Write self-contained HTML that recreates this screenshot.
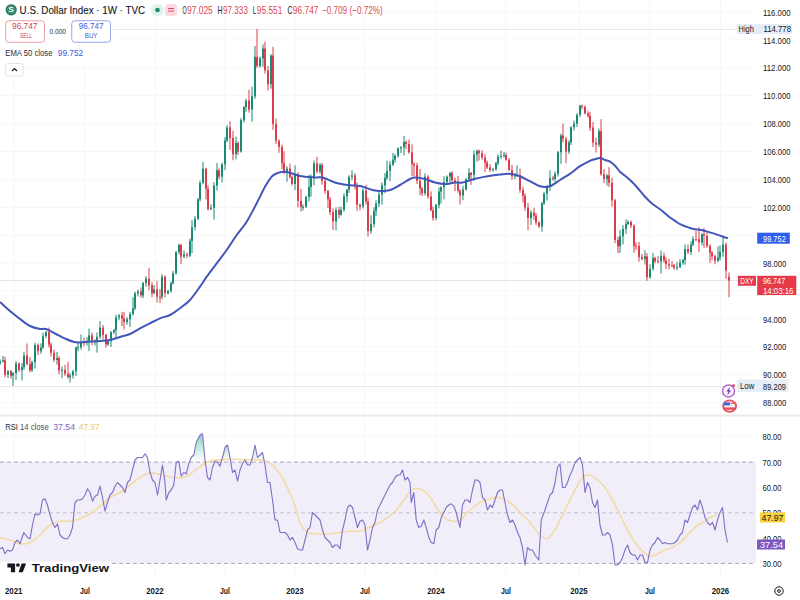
<!DOCTYPE html>
<html><head><meta charset="utf-8"><style>
html,body{margin:0;padding:0;width:800px;height:600px;overflow:hidden;background:#fff}
svg{position:absolute;left:0;top:0;font-family:"Liberation Sans",sans-serif}
.ax{fill:#131722}
.tb{font-weight:bold}
</style></head><body>
<svg width="800" height="600" viewBox="0 0 800 600">
<line x1="0" y1="402.6" x2="756" y2="402.6" stroke="#f7f7f7" stroke-width="1"/>
<line x1="0" y1="374.7" x2="756" y2="374.7" stroke="#f7f7f7" stroke-width="1"/>
<line x1="0" y1="346.8" x2="756" y2="346.8" stroke="#f7f7f7" stroke-width="1"/>
<line x1="0" y1="318.9" x2="756" y2="318.9" stroke="#f7f7f7" stroke-width="1"/>
<line x1="0" y1="291.0" x2="756" y2="291.0" stroke="#f7f7f7" stroke-width="1"/>
<line x1="0" y1="263.1" x2="756" y2="263.1" stroke="#f7f7f7" stroke-width="1"/>
<line x1="0" y1="235.2" x2="756" y2="235.2" stroke="#f7f7f7" stroke-width="1"/>
<line x1="0" y1="207.3" x2="756" y2="207.3" stroke="#f7f7f7" stroke-width="1"/>
<line x1="0" y1="179.4" x2="756" y2="179.4" stroke="#f7f7f7" stroke-width="1"/>
<line x1="0" y1="151.5" x2="756" y2="151.5" stroke="#f7f7f7" stroke-width="1"/>
<line x1="0" y1="123.6" x2="756" y2="123.6" stroke="#f7f7f7" stroke-width="1"/>
<line x1="0" y1="95.7" x2="756" y2="95.7" stroke="#f7f7f7" stroke-width="1"/>
<line x1="0" y1="67.8" x2="756" y2="67.8" stroke="#f7f7f7" stroke-width="1"/>
<line x1="0" y1="39.9" x2="756" y2="39.9" stroke="#f7f7f7" stroke-width="1"/>
<line x1="0" y1="12.0" x2="756" y2="12.0" stroke="#f7f7f7" stroke-width="1"/>
<line x1="13.75" y1="0" x2="13.75" y2="580" stroke="#f7f7f7" stroke-width="1"/>
<line x1="85" y1="0" x2="85" y2="580" stroke="#f7f7f7" stroke-width="1"/>
<line x1="155" y1="0" x2="155" y2="580" stroke="#f7f7f7" stroke-width="1"/>
<line x1="225" y1="0" x2="225" y2="580" stroke="#f7f7f7" stroke-width="1"/>
<line x1="295" y1="0" x2="295" y2="580" stroke="#f7f7f7" stroke-width="1"/>
<line x1="365" y1="0" x2="365" y2="580" stroke="#f7f7f7" stroke-width="1"/>
<line x1="436" y1="0" x2="436" y2="580" stroke="#f7f7f7" stroke-width="1"/>
<line x1="506" y1="0" x2="506" y2="580" stroke="#f7f7f7" stroke-width="1"/>
<line x1="579" y1="0" x2="579" y2="580" stroke="#f7f7f7" stroke-width="1"/>
<line x1="650" y1="0" x2="650" y2="580" stroke="#f7f7f7" stroke-width="1"/>
<line x1="720.5" y1="0" x2="720.5" y2="580" stroke="#f7f7f7" stroke-width="1"/>
<line x1="0" y1="436.6" x2="756" y2="436.6" stroke="#f7f7f7" stroke-width="1"/>
<line x1="0" y1="487.3" x2="756" y2="487.3" stroke="#f7f7f7" stroke-width="1"/>
<line x1="0" y1="538.0" x2="756" y2="538.0" stroke="#f7f7f7" stroke-width="1"/>
<rect x="0" y="462.1" width="756" height="101.3" fill="#f1edf9"/>
<line x1="0" y1="462.1" x2="756" y2="462.1" stroke="#a9a7b6" stroke-width="1" stroke-dasharray="4,3"/>
<line x1="0" y1="512.8" x2="756" y2="512.8" stroke="#c2c0cc" stroke-width="1" stroke-dasharray="4,3"/>
<line x1="0" y1="563.4" x2="756" y2="563.4" stroke="#a9a7b6" stroke-width="1" stroke-dasharray="4,3"/>
<line x1="0" y1="415.5" x2="800" y2="415.5" stroke="#ebebeb" stroke-width="2"/>
<line x1="0" y1="29.5" x2="756" y2="29.5" stroke="#e7e7e7" stroke-width="1"/>
<line x1="0" y1="386.5" x2="756" y2="386.5" stroke="#e7e7e7" stroke-width="1"/>
<line x1="0" y1="280.6" x2="756" y2="280.6" stroke="#e4e4e4" stroke-width="1"/>
<rect x="-0.5" y="359.2" width="1" height="5.8" fill="#1a8a72"/>
<rect x="-1" y="361.4" width="2" height="2.0" fill="#1a8a72"/>
<rect x="2.5" y="355.9" width="1" height="6.7" fill="#1a8a72"/>
<rect x="2" y="360.3" width="2" height="1.1" fill="#1a8a72"/>
<rect x="4.5" y="356.9" width="1" height="20.3" fill="#dc3c4a"/>
<rect x="4" y="360.3" width="2" height="14.4" fill="#dc3c4a"/>
<rect x="7.5" y="370.0" width="1" height="8.0" fill="#1a8a72"/>
<rect x="7" y="371.1" width="2" height="3.5" fill="#1a8a72"/>
<rect x="10.5" y="370.0" width="1" height="8.5" fill="#dc3c4a"/>
<rect x="10" y="371.1" width="2" height="4.6" fill="#dc3c4a"/>
<rect x="12.5" y="372.0" width="1" height="14.0" fill="#1a8a72"/>
<rect x="12" y="373.2" width="2" height="2.5" fill="#1a8a72"/>
<rect x="15.5" y="360.8" width="1" height="19.0" fill="#1a8a72"/>
<rect x="15" y="363.6" width="2" height="9.6" fill="#1a8a72"/>
<rect x="18.5" y="362.2" width="1" height="9.7" fill="#dc3c4a"/>
<rect x="18" y="363.6" width="2" height="6.5" fill="#dc3c4a"/>
<rect x="21.5" y="362.9" width="1" height="17.6" fill="#1a8a72"/>
<rect x="21" y="367.1" width="2" height="3.0" fill="#1a8a72"/>
<rect x="23.5" y="351.7" width="1" height="18.0" fill="#1a8a72"/>
<rect x="23" y="355.5" width="2" height="11.6" fill="#1a8a72"/>
<rect x="26.5" y="343.5" width="1" height="21.9" fill="#dc3c4a"/>
<rect x="26" y="355.5" width="2" height="8.7" fill="#dc3c4a"/>
<rect x="29.5" y="357.0" width="1" height="15.4" fill="#dc3c4a"/>
<rect x="29" y="364.2" width="2" height="6.1" fill="#dc3c4a"/>
<rect x="31.5" y="360.7" width="1" height="11.1" fill="#1a8a72"/>
<rect x="31" y="362.2" width="2" height="8.2" fill="#1a8a72"/>
<rect x="34.5" y="342.8" width="1" height="25.8" fill="#1a8a72"/>
<rect x="34" y="345.0" width="2" height="17.2" fill="#1a8a72"/>
<rect x="37.5" y="343.3" width="1" height="11.8" fill="#dc3c4a"/>
<rect x="37" y="345.0" width="2" height="6.3" fill="#dc3c4a"/>
<rect x="40.5" y="343.3" width="1" height="10.5" fill="#1a8a72"/>
<rect x="40" y="347.6" width="2" height="3.7" fill="#1a8a72"/>
<rect x="42.5" y="332.6" width="1" height="16.2" fill="#1a8a72"/>
<rect x="42" y="336.2" width="2" height="11.4" fill="#1a8a72"/>
<rect x="45.5" y="331.0" width="1" height="7.0" fill="#1a8a72"/>
<rect x="45" y="332.1" width="2" height="4.0" fill="#1a8a72"/>
<rect x="48.5" y="327.5" width="1" height="20.0" fill="#dc3c4a"/>
<rect x="48" y="332.1" width="2" height="12.5" fill="#dc3c4a"/>
<rect x="50.5" y="342.5" width="1" height="14.1" fill="#dc3c4a"/>
<rect x="50" y="344.7" width="2" height="8.1" fill="#dc3c4a"/>
<rect x="53.5" y="349.8" width="1" height="12.2" fill="#dc3c4a"/>
<rect x="53" y="352.8" width="2" height="7.1" fill="#dc3c4a"/>
<rect x="56.5" y="351.9" width="1" height="12.8" fill="#1a8a72"/>
<rect x="56" y="358.0" width="2" height="1.9" fill="#1a8a72"/>
<rect x="58.5" y="356.1" width="1" height="18.1" fill="#dc3c4a"/>
<rect x="58" y="358.0" width="2" height="12.4" fill="#dc3c4a"/>
<rect x="61.5" y="366.6" width="1" height="11.5" fill="#1a8a72"/>
<rect x="61" y="370.0" width="2" height="1.0" fill="#1a8a72"/>
<rect x="64.5" y="364.8" width="1" height="11.1" fill="#dc3c4a"/>
<rect x="64" y="370.0" width="2" height="3.8" fill="#dc3c4a"/>
<rect x="67.5" y="361.8" width="1" height="16.7" fill="#dc3c4a"/>
<rect x="67" y="373.8" width="2" height="3.3" fill="#dc3c4a"/>
<rect x="69.5" y="372.6" width="1" height="10.0" fill="#1a8a72"/>
<rect x="69" y="375.4" width="2" height="1.7" fill="#1a8a72"/>
<rect x="72.5" y="369.8" width="1" height="8.7" fill="#1a8a72"/>
<rect x="72" y="371.3" width="2" height="4.1" fill="#1a8a72"/>
<rect x="75.5" y="346.4" width="1" height="29.5" fill="#1a8a72"/>
<rect x="75" y="347.5" width="2" height="23.8" fill="#1a8a72"/>
<rect x="77.5" y="341.6" width="1" height="9.6" fill="#1a8a72"/>
<rect x="77" y="347.3" width="2" height="1.0" fill="#1a8a72"/>
<rect x="80.5" y="334.6" width="1" height="14.9" fill="#1a8a72"/>
<rect x="80" y="342.3" width="2" height="5.0" fill="#1a8a72"/>
<rect x="83.5" y="337.5" width="1" height="8.9" fill="#dc3c4a"/>
<rect x="83" y="342.3" width="2" height="1.0" fill="#dc3c4a"/>
<rect x="86.5" y="337.1" width="1" height="8.3" fill="#1a8a72"/>
<rect x="86" y="340.9" width="2" height="1.6" fill="#1a8a72"/>
<rect x="88.5" y="328.6" width="1" height="22.5" fill="#1a8a72"/>
<rect x="88" y="335.4" width="2" height="5.4" fill="#1a8a72"/>
<rect x="91.5" y="332.4" width="1" height="12.7" fill="#dc3c4a"/>
<rect x="91" y="335.4" width="2" height="5.2" fill="#dc3c4a"/>
<rect x="94.5" y="339.4" width="1" height="6.1" fill="#1a8a72"/>
<rect x="94" y="340.6" width="2" height="1.0" fill="#1a8a72"/>
<rect x="96.5" y="332.5" width="1" height="20.1" fill="#1a8a72"/>
<rect x="96" y="336.8" width="2" height="3.8" fill="#1a8a72"/>
<rect x="99.5" y="321.0" width="1" height="17.8" fill="#1a8a72"/>
<rect x="99" y="327.6" width="2" height="9.2" fill="#1a8a72"/>
<rect x="102.5" y="325.0" width="1" height="14.5" fill="#dc3c4a"/>
<rect x="102" y="327.6" width="2" height="7.4" fill="#dc3c4a"/>
<rect x="105.5" y="333.9" width="1" height="13.6" fill="#dc3c4a"/>
<rect x="105" y="334.9" width="2" height="9.5" fill="#dc3c4a"/>
<rect x="107.5" y="339.6" width="1" height="6.2" fill="#1a8a72"/>
<rect x="107" y="341.2" width="2" height="3.2" fill="#1a8a72"/>
<rect x="110.5" y="331.0" width="1" height="15.9" fill="#1a8a72"/>
<rect x="110" y="332.2" width="2" height="9.0" fill="#1a8a72"/>
<rect x="113.5" y="328.8" width="1" height="5.3" fill="#1a8a72"/>
<rect x="113" y="330.2" width="2" height="1.9" fill="#1a8a72"/>
<rect x="115.5" y="314.8" width="1" height="23.0" fill="#1a8a72"/>
<rect x="115" y="317.4" width="2" height="12.8" fill="#1a8a72"/>
<rect x="118.5" y="314.1" width="1" height="6.2" fill="#1a8a72"/>
<rect x="118" y="315.4" width="2" height="2.0" fill="#1a8a72"/>
<rect x="121.5" y="311.8" width="1" height="14.4" fill="#dc3c4a"/>
<rect x="121" y="315.4" width="2" height="3.0" fill="#dc3c4a"/>
<rect x="123.5" y="311.9" width="1" height="17.5" fill="#dc3c4a"/>
<rect x="123" y="318.4" width="2" height="3.6" fill="#dc3c4a"/>
<rect x="126.5" y="317.1" width="1" height="7.6" fill="#1a8a72"/>
<rect x="126" y="319.2" width="2" height="2.8" fill="#1a8a72"/>
<rect x="129.5" y="311.7" width="1" height="15.4" fill="#1a8a72"/>
<rect x="129" y="314.1" width="2" height="5.1" fill="#1a8a72"/>
<rect x="132.5" y="297.2" width="1" height="18.5" fill="#1a8a72"/>
<rect x="132" y="308.3" width="2" height="5.8" fill="#1a8a72"/>
<rect x="134.5" y="291.7" width="1" height="18.4" fill="#1a8a72"/>
<rect x="134" y="293.4" width="2" height="14.9" fill="#1a8a72"/>
<rect x="137.5" y="289.5" width="1" height="7.0" fill="#1a8a72"/>
<rect x="137" y="291.4" width="2" height="2.0" fill="#1a8a72"/>
<rect x="140.5" y="287.5" width="1" height="10.0" fill="#dc3c4a"/>
<rect x="140" y="291.4" width="2" height="4.1" fill="#dc3c4a"/>
<rect x="142.5" y="281.9" width="1" height="16.3" fill="#1a8a72"/>
<rect x="142" y="282.9" width="2" height="12.6" fill="#1a8a72"/>
<rect x="145.5" y="276.1" width="1" height="10.5" fill="#1a8a72"/>
<rect x="145" y="278.6" width="2" height="4.3" fill="#1a8a72"/>
<rect x="148.5" y="267.8" width="1" height="22.5" fill="#dc3c4a"/>
<rect x="148" y="278.6" width="2" height="6.9" fill="#dc3c4a"/>
<rect x="151.5" y="282.2" width="1" height="15.1" fill="#dc3c4a"/>
<rect x="151" y="285.5" width="2" height="7.7" fill="#dc3c4a"/>
<rect x="153.5" y="284.9" width="1" height="9.4" fill="#1a8a72"/>
<rect x="153" y="289.5" width="2" height="3.6" fill="#1a8a72"/>
<rect x="156.5" y="281.2" width="1" height="21.3" fill="#dc3c4a"/>
<rect x="156" y="289.5" width="2" height="7.1" fill="#dc3c4a"/>
<rect x="159.5" y="289.0" width="1" height="14.0" fill="#dc3c4a"/>
<rect x="159" y="296.7" width="2" height="1.0" fill="#dc3c4a"/>
<rect x="161.5" y="274.1" width="1" height="25.4" fill="#1a8a72"/>
<rect x="161" y="276.6" width="2" height="20.2" fill="#1a8a72"/>
<rect x="164.5" y="275.3" width="1" height="22.2" fill="#dc3c4a"/>
<rect x="164" y="276.6" width="2" height="16.6" fill="#dc3c4a"/>
<rect x="167.5" y="289.8" width="1" height="4.7" fill="#1a8a72"/>
<rect x="167" y="291.0" width="2" height="2.3" fill="#1a8a72"/>
<rect x="170.5" y="281.5" width="1" height="11.1" fill="#1a8a72"/>
<rect x="170" y="283.2" width="2" height="7.8" fill="#1a8a72"/>
<rect x="172.5" y="270.9" width="1" height="13.5" fill="#1a8a72"/>
<rect x="172" y="273.2" width="2" height="10.0" fill="#1a8a72"/>
<rect x="175.5" y="251.1" width="1" height="23.6" fill="#1a8a72"/>
<rect x="175" y="252.1" width="2" height="21.1" fill="#1a8a72"/>
<rect x="178.5" y="243.6" width="1" height="10.9" fill="#1a8a72"/>
<rect x="178" y="245.0" width="2" height="7.1" fill="#1a8a72"/>
<rect x="180.5" y="243.9" width="1" height="20.4" fill="#dc3c4a"/>
<rect x="180" y="245.0" width="2" height="11.7" fill="#dc3c4a"/>
<rect x="183.5" y="250.4" width="1" height="7.8" fill="#1a8a72"/>
<rect x="183" y="254.4" width="2" height="2.3" fill="#1a8a72"/>
<rect x="186.5" y="252.5" width="1" height="5.5" fill="#dc3c4a"/>
<rect x="186" y="254.4" width="2" height="1.2" fill="#dc3c4a"/>
<rect x="189.5" y="238.5" width="1" height="18.5" fill="#1a8a72"/>
<rect x="189" y="240.9" width="2" height="14.7" fill="#1a8a72"/>
<rect x="191.5" y="220.2" width="1" height="32.8" fill="#1a8a72"/>
<rect x="191" y="227.2" width="2" height="13.7" fill="#1a8a72"/>
<rect x="194.5" y="215.8" width="1" height="14.6" fill="#1a8a72"/>
<rect x="194" y="218.8" width="2" height="8.4" fill="#1a8a72"/>
<rect x="197.5" y="198.1" width="1" height="22.0" fill="#1a8a72"/>
<rect x="197" y="199.4" width="2" height="19.4" fill="#1a8a72"/>
<rect x="199.5" y="180.4" width="1" height="20.9" fill="#1a8a72"/>
<rect x="199" y="182.8" width="2" height="16.6" fill="#1a8a72"/>
<rect x="202.5" y="162.1" width="1" height="22.2" fill="#1a8a72"/>
<rect x="202" y="168.8" width="2" height="14.0" fill="#1a8a72"/>
<rect x="205.5" y="167.7" width="1" height="31.7" fill="#dc3c4a"/>
<rect x="205" y="168.8" width="2" height="20.0" fill="#dc3c4a"/>
<rect x="207.5" y="185.4" width="1" height="25.2" fill="#dc3c4a"/>
<rect x="207" y="188.8" width="2" height="20.3" fill="#dc3c4a"/>
<rect x="210.5" y="204.2" width="1" height="6.0" fill="#1a8a72"/>
<rect x="210" y="207.7" width="2" height="1.4" fill="#1a8a72"/>
<rect x="213.5" y="182.2" width="1" height="37.5" fill="#1a8a72"/>
<rect x="213" y="185.6" width="2" height="22.1" fill="#1a8a72"/>
<rect x="216.5" y="163.0" width="1" height="27.5" fill="#1a8a72"/>
<rect x="216" y="170.3" width="2" height="15.3" fill="#1a8a72"/>
<rect x="218.5" y="168.4" width="1" height="10.8" fill="#dc3c4a"/>
<rect x="218" y="170.3" width="2" height="6.4" fill="#dc3c4a"/>
<rect x="221.5" y="162.8" width="1" height="19.6" fill="#1a8a72"/>
<rect x="221" y="164.4" width="2" height="12.3" fill="#1a8a72"/>
<rect x="224.5" y="137.1" width="1" height="33.1" fill="#1a8a72"/>
<rect x="224" y="140.5" width="2" height="23.8" fill="#1a8a72"/>
<rect x="226.5" y="125.2" width="1" height="17.1" fill="#1a8a72"/>
<rect x="226" y="127.5" width="2" height="13.0" fill="#1a8a72"/>
<rect x="229.5" y="121.2" width="1" height="28.7" fill="#dc3c4a"/>
<rect x="229" y="127.5" width="2" height="10.4" fill="#dc3c4a"/>
<rect x="232.5" y="130.7" width="1" height="29.6" fill="#dc3c4a"/>
<rect x="232" y="137.9" width="2" height="16.3" fill="#dc3c4a"/>
<rect x="235.5" y="136.6" width="1" height="22.8" fill="#1a8a72"/>
<rect x="235" y="143.0" width="2" height="11.1" fill="#1a8a72"/>
<rect x="237.5" y="141.2" width="1" height="13.7" fill="#dc3c4a"/>
<rect x="237" y="143.0" width="2" height="8.6" fill="#dc3c4a"/>
<rect x="240.5" y="117.9" width="1" height="34.7" fill="#1a8a72"/>
<rect x="240" y="120.3" width="2" height="31.2" fill="#1a8a72"/>
<rect x="243.5" y="106.0" width="1" height="16.4" fill="#1a8a72"/>
<rect x="243" y="107.1" width="2" height="13.3" fill="#1a8a72"/>
<rect x="245.5" y="98.7" width="1" height="13.1" fill="#1a8a72"/>
<rect x="245" y="100.7" width="2" height="6.3" fill="#1a8a72"/>
<rect x="248.5" y="89.7" width="1" height="22.9" fill="#dc3c4a"/>
<rect x="248" y="100.7" width="2" height="8.9" fill="#dc3c4a"/>
<rect x="251.5" y="86.5" width="1" height="35.2" fill="#1a8a72"/>
<rect x="251" y="96.3" width="2" height="13.3" fill="#1a8a72"/>
<rect x="254.5" y="46.0" width="1" height="52.8" fill="#1a8a72"/>
<rect x="254" y="56.9" width="2" height="39.4" fill="#1a8a72"/>
<rect x="256.5" y="29.0" width="1" height="38.9" fill="#dc3c4a"/>
<rect x="256" y="56.9" width="2" height="9.2" fill="#dc3c4a"/>
<rect x="259.5" y="56.7" width="1" height="11.1" fill="#1a8a72"/>
<rect x="259" y="58.4" width="2" height="7.7" fill="#1a8a72"/>
<rect x="262.5" y="44.4" width="1" height="22.4" fill="#1a8a72"/>
<rect x="262" y="48.5" width="2" height="9.9" fill="#1a8a72"/>
<rect x="264.5" y="41.7" width="1" height="31.8" fill="#dc3c4a"/>
<rect x="264" y="48.5" width="2" height="21.8" fill="#dc3c4a"/>
<rect x="267.5" y="66.0" width="1" height="24.4" fill="#dc3c4a"/>
<rect x="267" y="70.3" width="2" height="13.9" fill="#dc3c4a"/>
<rect x="270.5" y="54.2" width="1" height="34.5" fill="#1a8a72"/>
<rect x="270" y="55.5" width="2" height="28.7" fill="#1a8a72"/>
<rect x="272.5" y="46.8" width="1" height="83.0" fill="#dc3c4a"/>
<rect x="272" y="55.5" width="2" height="68.4" fill="#dc3c4a"/>
<rect x="275.5" y="118.5" width="1" height="25.4" fill="#dc3c4a"/>
<rect x="275" y="123.9" width="2" height="16.9" fill="#dc3c4a"/>
<rect x="278.5" y="139.2" width="1" height="13.6" fill="#dc3c4a"/>
<rect x="278" y="140.9" width="2" height="6.0" fill="#dc3c4a"/>
<rect x="281.5" y="144.6" width="1" height="24.7" fill="#dc3c4a"/>
<rect x="281" y="146.9" width="2" height="16.3" fill="#dc3c4a"/>
<rect x="283.5" y="151.2" width="1" height="22.9" fill="#dc3c4a"/>
<rect x="283" y="163.2" width="2" height="8.3" fill="#dc3c4a"/>
<rect x="286.5" y="166.1" width="1" height="15.7" fill="#1a8a72"/>
<rect x="286" y="168.7" width="2" height="2.7" fill="#1a8a72"/>
<rect x="289.5" y="163.6" width="1" height="14.9" fill="#dc3c4a"/>
<rect x="289" y="168.7" width="2" height="8.2" fill="#dc3c4a"/>
<rect x="291.5" y="175.5" width="1" height="9.9" fill="#dc3c4a"/>
<rect x="291" y="177.0" width="2" height="6.9" fill="#dc3c4a"/>
<rect x="294.5" y="165.3" width="1" height="24.9" fill="#1a8a72"/>
<rect x="294" y="173.8" width="2" height="10.1" fill="#1a8a72"/>
<rect x="297.5" y="172.3" width="1" height="35.2" fill="#dc3c4a"/>
<rect x="297" y="173.8" width="2" height="27.1" fill="#dc3c4a"/>
<rect x="300.5" y="188.9" width="1" height="22.5" fill="#dc3c4a"/>
<rect x="300" y="200.9" width="2" height="6.0" fill="#dc3c4a"/>
<rect x="302.5" y="204.5" width="1" height="6.0" fill="#1a8a72"/>
<rect x="302" y="206.9" width="2" height="1.0" fill="#1a8a72"/>
<rect x="305.5" y="195.6" width="1" height="12.3" fill="#1a8a72"/>
<rect x="305" y="197.0" width="2" height="9.8" fill="#1a8a72"/>
<rect x="308.5" y="174.9" width="1" height="26.5" fill="#1a8a72"/>
<rect x="308" y="186.9" width="2" height="10.1" fill="#1a8a72"/>
<rect x="310.5" y="174.4" width="1" height="22.2" fill="#1a8a72"/>
<rect x="310" y="177.8" width="2" height="9.1" fill="#1a8a72"/>
<rect x="313.5" y="160.5" width="1" height="24.8" fill="#1a8a72"/>
<rect x="313" y="163.4" width="2" height="14.4" fill="#1a8a72"/>
<rect x="316.5" y="156.8" width="1" height="16.5" fill="#dc3c4a"/>
<rect x="316" y="163.4" width="2" height="8.1" fill="#dc3c4a"/>
<rect x="319.5" y="162.9" width="1" height="10.7" fill="#1a8a72"/>
<rect x="319" y="164.9" width="2" height="6.6" fill="#1a8a72"/>
<rect x="321.5" y="163.0" width="1" height="21.8" fill="#dc3c4a"/>
<rect x="321" y="164.9" width="2" height="16.1" fill="#dc3c4a"/>
<rect x="324.5" y="179.0" width="1" height="14.8" fill="#dc3c4a"/>
<rect x="324" y="181.0" width="2" height="10.1" fill="#dc3c4a"/>
<rect x="327.5" y="189.6" width="1" height="18.5" fill="#dc3c4a"/>
<rect x="327" y="191.0" width="2" height="8.3" fill="#dc3c4a"/>
<rect x="329.5" y="196.9" width="1" height="18.3" fill="#dc3c4a"/>
<rect x="329" y="199.3" width="2" height="12.9" fill="#dc3c4a"/>
<rect x="332.5" y="208.5" width="1" height="21.5" fill="#dc3c4a"/>
<rect x="332" y="212.3" width="2" height="9.2" fill="#dc3c4a"/>
<rect x="335.5" y="207.3" width="1" height="23.2" fill="#1a8a72"/>
<rect x="335" y="210.0" width="2" height="11.4" fill="#1a8a72"/>
<rect x="338.5" y="206.8" width="1" height="11.4" fill="#dc3c4a"/>
<rect x="338" y="210.0" width="2" height="4.7" fill="#dc3c4a"/>
<rect x="340.5" y="206.6" width="1" height="9.2" fill="#1a8a72"/>
<rect x="340" y="209.9" width="2" height="4.8" fill="#1a8a72"/>
<rect x="343.5" y="193.3" width="1" height="18.3" fill="#1a8a72"/>
<rect x="343" y="196.2" width="2" height="13.8" fill="#1a8a72"/>
<rect x="346.5" y="188.7" width="1" height="13.6" fill="#1a8a72"/>
<rect x="346" y="189.7" width="2" height="6.5" fill="#1a8a72"/>
<rect x="348.5" y="175.2" width="1" height="17.6" fill="#1a8a72"/>
<rect x="348" y="176.8" width="2" height="12.9" fill="#1a8a72"/>
<rect x="351.5" y="170.2" width="1" height="10.1" fill="#1a8a72"/>
<rect x="351" y="175.4" width="2" height="1.4" fill="#1a8a72"/>
<rect x="354.5" y="173.1" width="1" height="16.3" fill="#dc3c4a"/>
<rect x="354" y="175.4" width="2" height="10.7" fill="#dc3c4a"/>
<rect x="356.5" y="182.5" width="1" height="28.3" fill="#dc3c4a"/>
<rect x="356" y="186.0" width="2" height="18.8" fill="#dc3c4a"/>
<rect x="359.5" y="203.5" width="1" height="6.8" fill="#dc3c4a"/>
<rect x="359" y="204.8" width="2" height="1.8" fill="#dc3c4a"/>
<rect x="362.5" y="188.6" width="1" height="20.0" fill="#1a8a72"/>
<rect x="362" y="190.5" width="2" height="16.1" fill="#1a8a72"/>
<rect x="365.5" y="184.8" width="1" height="19.8" fill="#dc3c4a"/>
<rect x="365" y="190.5" width="2" height="10.8" fill="#dc3c4a"/>
<rect x="367.5" y="197.7" width="1" height="38.9" fill="#dc3c4a"/>
<rect x="367" y="201.4" width="2" height="29.7" fill="#dc3c4a"/>
<rect x="370.5" y="215.3" width="1" height="18.6" fill="#1a8a72"/>
<rect x="370" y="224.1" width="2" height="6.9" fill="#1a8a72"/>
<rect x="373.5" y="207.2" width="1" height="20.2" fill="#1a8a72"/>
<rect x="373" y="211.2" width="2" height="12.9" fill="#1a8a72"/>
<rect x="375.5" y="200.3" width="1" height="15.7" fill="#1a8a72"/>
<rect x="375" y="203.6" width="2" height="7.6" fill="#1a8a72"/>
<rect x="378.5" y="191.8" width="1" height="15.3" fill="#1a8a72"/>
<rect x="378" y="194.7" width="2" height="9.0" fill="#1a8a72"/>
<rect x="381.5" y="182.4" width="1" height="22.3" fill="#1a8a72"/>
<rect x="381" y="185.5" width="2" height="9.2" fill="#1a8a72"/>
<rect x="384.5" y="173.1" width="1" height="20.1" fill="#1a8a72"/>
<rect x="384" y="177.9" width="2" height="7.6" fill="#1a8a72"/>
<rect x="386.5" y="160.7" width="1" height="19.2" fill="#1a8a72"/>
<rect x="386" y="170.9" width="2" height="7.1" fill="#1a8a72"/>
<rect x="389.5" y="161.0" width="1" height="20.0" fill="#1a8a72"/>
<rect x="389" y="164.7" width="2" height="6.2" fill="#1a8a72"/>
<rect x="392.5" y="152.9" width="1" height="13.2" fill="#1a8a72"/>
<rect x="392" y="159.8" width="2" height="4.9" fill="#1a8a72"/>
<rect x="394.5" y="154.3" width="1" height="8.3" fill="#1a8a72"/>
<rect x="394" y="155.7" width="2" height="4.1" fill="#1a8a72"/>
<rect x="397.5" y="147.2" width="1" height="10.5" fill="#1a8a72"/>
<rect x="397" y="148.4" width="2" height="7.3" fill="#1a8a72"/>
<rect x="400.5" y="146.0" width="1" height="7.0" fill="#1a8a72"/>
<rect x="400" y="147.2" width="2" height="1.2" fill="#1a8a72"/>
<rect x="403.5" y="136.1" width="1" height="19.3" fill="#1a8a72"/>
<rect x="403" y="142.0" width="2" height="5.2" fill="#1a8a72"/>
<rect x="405.5" y="140.5" width="1" height="8.5" fill="#dc3c4a"/>
<rect x="405" y="142.0" width="2" height="2.0" fill="#dc3c4a"/>
<rect x="408.5" y="139.6" width="1" height="14.2" fill="#dc3c4a"/>
<rect x="408" y="144.0" width="2" height="8.3" fill="#dc3c4a"/>
<rect x="411.5" y="144.4" width="1" height="31.5" fill="#dc3c4a"/>
<rect x="411" y="152.3" width="2" height="11.7" fill="#dc3c4a"/>
<rect x="413.5" y="162.2" width="1" height="14.1" fill="#dc3c4a"/>
<rect x="413" y="164.0" width="2" height="1.5" fill="#dc3c4a"/>
<rect x="416.5" y="162.9" width="1" height="21.1" fill="#dc3c4a"/>
<rect x="416" y="165.5" width="2" height="15.4" fill="#dc3c4a"/>
<rect x="419.5" y="168.9" width="1" height="26.2" fill="#dc3c4a"/>
<rect x="419" y="180.9" width="2" height="7.5" fill="#dc3c4a"/>
<rect x="421.5" y="186.8" width="1" height="9.2" fill="#dc3c4a"/>
<rect x="421" y="188.4" width="2" height="4.9" fill="#dc3c4a"/>
<rect x="424.5" y="173.4" width="1" height="22.1" fill="#1a8a72"/>
<rect x="424" y="176.7" width="2" height="16.5" fill="#1a8a72"/>
<rect x="427.5" y="175.1" width="1" height="23.7" fill="#dc3c4a"/>
<rect x="427" y="176.7" width="2" height="19.7" fill="#dc3c4a"/>
<rect x="430.5" y="191.4" width="1" height="19.8" fill="#dc3c4a"/>
<rect x="430" y="196.5" width="2" height="13.7" fill="#dc3c4a"/>
<rect x="432.5" y="206.6" width="1" height="14.2" fill="#dc3c4a"/>
<rect x="432" y="210.2" width="2" height="7.8" fill="#dc3c4a"/>
<rect x="435.5" y="203.9" width="1" height="16.3" fill="#1a8a72"/>
<rect x="435" y="205.0" width="2" height="12.9" fill="#1a8a72"/>
<rect x="438.5" y="187.4" width="1" height="20.9" fill="#1a8a72"/>
<rect x="438" y="191.5" width="2" height="13.4" fill="#1a8a72"/>
<rect x="440.5" y="186.1" width="1" height="17.5" fill="#1a8a72"/>
<rect x="440" y="187.3" width="2" height="4.3" fill="#1a8a72"/>
<rect x="443.5" y="176.2" width="1" height="23.1" fill="#1a8a72"/>
<rect x="443" y="182.1" width="2" height="5.1" fill="#1a8a72"/>
<rect x="446.5" y="175.4" width="1" height="8.7" fill="#1a8a72"/>
<rect x="446" y="176.7" width="2" height="5.4" fill="#1a8a72"/>
<rect x="449.5" y="171.9" width="1" height="10.7" fill="#1a8a72"/>
<rect x="449" y="173.0" width="2" height="3.7" fill="#1a8a72"/>
<rect x="451.5" y="171.0" width="1" height="10.8" fill="#dc3c4a"/>
<rect x="451" y="173.0" width="2" height="7.4" fill="#dc3c4a"/>
<rect x="454.5" y="177.6" width="1" height="13.5" fill="#dc3c4a"/>
<rect x="454" y="180.4" width="2" height="2.0" fill="#dc3c4a"/>
<rect x="457.5" y="175.9" width="1" height="16.8" fill="#dc3c4a"/>
<rect x="457" y="182.3" width="2" height="8.3" fill="#dc3c4a"/>
<rect x="459.5" y="189.2" width="1" height="15.2" fill="#dc3c4a"/>
<rect x="459" y="190.7" width="2" height="4.6" fill="#dc3c4a"/>
<rect x="462.5" y="185.7" width="1" height="14.5" fill="#1a8a72"/>
<rect x="462" y="189.4" width="2" height="5.9" fill="#1a8a72"/>
<rect x="465.5" y="177.9" width="1" height="12.7" fill="#1a8a72"/>
<rect x="465" y="179.2" width="2" height="10.2" fill="#1a8a72"/>
<rect x="468.5" y="168.2" width="1" height="13.8" fill="#1a8a72"/>
<rect x="468" y="172.9" width="2" height="6.3" fill="#1a8a72"/>
<rect x="470.5" y="171.7" width="1" height="13.2" fill="#dc3c4a"/>
<rect x="470" y="172.9" width="2" height="2.1" fill="#dc3c4a"/>
<rect x="473.5" y="150.4" width="1" height="30.8" fill="#1a8a72"/>
<rect x="473" y="154.6" width="2" height="20.4" fill="#1a8a72"/>
<rect x="476.5" y="149.5" width="1" height="12.3" fill="#1a8a72"/>
<rect x="476" y="150.8" width="2" height="3.8" fill="#1a8a72"/>
<rect x="478.5" y="149.6" width="1" height="10.9" fill="#dc3c4a"/>
<rect x="478" y="150.8" width="2" height="2.3" fill="#dc3c4a"/>
<rect x="481.5" y="150.2" width="1" height="9.6" fill="#dc3c4a"/>
<rect x="481" y="153.1" width="2" height="4.3" fill="#dc3c4a"/>
<rect x="484.5" y="153.9" width="1" height="18.0" fill="#dc3c4a"/>
<rect x="484" y="157.5" width="2" height="5.0" fill="#dc3c4a"/>
<rect x="486.5" y="160.5" width="1" height="8.4" fill="#dc3c4a"/>
<rect x="486" y="162.5" width="2" height="5.0" fill="#dc3c4a"/>
<rect x="489.5" y="164.1" width="1" height="7.8" fill="#dc3c4a"/>
<rect x="489" y="167.5" width="2" height="2.5" fill="#dc3c4a"/>
<rect x="492.5" y="167.8" width="1" height="3.8" fill="#1a8a72"/>
<rect x="492" y="169.2" width="2" height="1.0" fill="#1a8a72"/>
<rect x="495.5" y="162.0" width="1" height="8.9" fill="#1a8a72"/>
<rect x="495" y="163.1" width="2" height="6.0" fill="#1a8a72"/>
<rect x="497.5" y="154.5" width="1" height="10.8" fill="#1a8a72"/>
<rect x="497" y="156.7" width="2" height="6.5" fill="#1a8a72"/>
<rect x="500.5" y="150.5" width="1" height="8.3" fill="#1a8a72"/>
<rect x="500" y="156.0" width="2" height="1.0" fill="#1a8a72"/>
<rect x="503.5" y="151.8" width="1" height="5.9" fill="#1a8a72"/>
<rect x="503" y="155.0" width="2" height="1.1" fill="#1a8a72"/>
<rect x="505.5" y="152.6" width="1" height="8.2" fill="#dc3c4a"/>
<rect x="505" y="155.0" width="2" height="4.8" fill="#dc3c4a"/>
<rect x="508.5" y="157.9" width="1" height="13.2" fill="#dc3c4a"/>
<rect x="508" y="159.8" width="2" height="10.2" fill="#dc3c4a"/>
<rect x="511.5" y="164.8" width="1" height="15.0" fill="#dc3c4a"/>
<rect x="511" y="170.0" width="2" height="6.2" fill="#dc3c4a"/>
<rect x="514.5" y="173.7" width="1" height="5.6" fill="#1a8a72"/>
<rect x="514" y="175.4" width="2" height="1.0" fill="#1a8a72"/>
<rect x="516.5" y="165.3" width="1" height="11.5" fill="#1a8a72"/>
<rect x="516" y="175.0" width="2" height="1.0" fill="#1a8a72"/>
<rect x="519.5" y="168.5" width="1" height="24.3" fill="#dc3c4a"/>
<rect x="519" y="175.0" width="2" height="15.0" fill="#dc3c4a"/>
<rect x="522.5" y="186.8" width="1" height="15.8" fill="#dc3c4a"/>
<rect x="522" y="190.0" width="2" height="5.8" fill="#dc3c4a"/>
<rect x="524.5" y="193.3" width="1" height="17.5" fill="#dc3c4a"/>
<rect x="524" y="195.9" width="2" height="11.7" fill="#dc3c4a"/>
<rect x="527.5" y="202.8" width="1" height="27.3" fill="#dc3c4a"/>
<rect x="527" y="207.5" width="2" height="10.5" fill="#dc3c4a"/>
<rect x="530.5" y="210.2" width="1" height="14.7" fill="#1a8a72"/>
<rect x="530" y="212.5" width="2" height="5.6" fill="#1a8a72"/>
<rect x="533.5" y="207.6" width="1" height="12.3" fill="#dc3c4a"/>
<rect x="533" y="212.5" width="2" height="3.2" fill="#dc3c4a"/>
<rect x="535.5" y="213.0" width="1" height="11.9" fill="#dc3c4a"/>
<rect x="535" y="215.7" width="2" height="6.9" fill="#dc3c4a"/>
<rect x="538.5" y="221.3" width="1" height="6.6" fill="#dc3c4a"/>
<rect x="538" y="222.5" width="2" height="3.9" fill="#dc3c4a"/>
<rect x="541.5" y="202.0" width="1" height="29.7" fill="#1a8a72"/>
<rect x="541" y="203.3" width="2" height="23.2" fill="#1a8a72"/>
<rect x="543.5" y="191.8" width="1" height="13.1" fill="#1a8a72"/>
<rect x="543" y="193.7" width="2" height="9.6" fill="#1a8a72"/>
<rect x="546.5" y="185.3" width="1" height="15.3" fill="#1a8a72"/>
<rect x="546" y="186.6" width="2" height="7.1" fill="#1a8a72"/>
<rect x="549.5" y="170.3" width="1" height="20.8" fill="#1a8a72"/>
<rect x="549" y="177.9" width="2" height="8.7" fill="#1a8a72"/>
<rect x="552.5" y="175.8" width="1" height="4.9" fill="#dc3c4a"/>
<rect x="552" y="177.9" width="2" height="1.0" fill="#dc3c4a"/>
<rect x="554.5" y="171.5" width="1" height="10.2" fill="#1a8a72"/>
<rect x="554" y="173.7" width="2" height="5.1" fill="#1a8a72"/>
<rect x="557.5" y="150.8" width="1" height="25.7" fill="#1a8a72"/>
<rect x="557" y="152.4" width="2" height="21.3" fill="#1a8a72"/>
<rect x="560.5" y="133.6" width="1" height="30.2" fill="#1a8a72"/>
<rect x="560" y="135.5" width="2" height="16.8" fill="#1a8a72"/>
<rect x="562.5" y="123.5" width="1" height="18.8" fill="#dc3c4a"/>
<rect x="562" y="135.5" width="2" height="3.3" fill="#dc3c4a"/>
<rect x="565.5" y="136.9" width="1" height="26.4" fill="#dc3c4a"/>
<rect x="565" y="138.8" width="2" height="12.7" fill="#dc3c4a"/>
<rect x="568.5" y="140.2" width="1" height="13.8" fill="#1a8a72"/>
<rect x="568" y="142.4" width="2" height="9.2" fill="#1a8a72"/>
<rect x="570.5" y="126.3" width="1" height="18.7" fill="#1a8a72"/>
<rect x="570" y="127.3" width="2" height="15.1" fill="#1a8a72"/>
<rect x="573.5" y="120.6" width="1" height="9.9" fill="#1a8a72"/>
<rect x="573" y="123.7" width="2" height="3.6" fill="#1a8a72"/>
<rect x="576.5" y="113.2" width="1" height="13.7" fill="#1a8a72"/>
<rect x="576" y="114.9" width="2" height="8.8" fill="#1a8a72"/>
<rect x="579.5" y="104.8" width="1" height="12.1" fill="#1a8a72"/>
<rect x="579" y="105.8" width="2" height="9.1" fill="#1a8a72"/>
<rect x="581.5" y="104.5" width="1" height="4.9" fill="#dc3c4a"/>
<rect x="581" y="105.8" width="2" height="1.0" fill="#dc3c4a"/>
<rect x="584.5" y="105.6" width="1" height="8.8" fill="#dc3c4a"/>
<rect x="584" y="106.8" width="2" height="6.6" fill="#dc3c4a"/>
<rect x="587.5" y="111.2" width="1" height="6.6" fill="#dc3c4a"/>
<rect x="587" y="113.3" width="2" height="2.6" fill="#dc3c4a"/>
<rect x="589.5" y="112.1" width="1" height="18.9" fill="#dc3c4a"/>
<rect x="589" y="115.9" width="2" height="11.6" fill="#dc3c4a"/>
<rect x="592.5" y="122.1" width="1" height="24.9" fill="#dc3c4a"/>
<rect x="592" y="127.6" width="2" height="15.0" fill="#dc3c4a"/>
<rect x="595.5" y="137.6" width="1" height="14.9" fill="#dc3c4a"/>
<rect x="595" y="142.6" width="2" height="2.1" fill="#dc3c4a"/>
<rect x="598.5" y="128.5" width="1" height="18.4" fill="#1a8a72"/>
<rect x="598" y="131.1" width="2" height="13.6" fill="#1a8a72"/>
<rect x="600.5" y="119.1" width="1" height="56.6" fill="#dc3c4a"/>
<rect x="600" y="131.1" width="2" height="43.1" fill="#dc3c4a"/>
<rect x="603.5" y="169.1" width="1" height="14.0" fill="#dc3c4a"/>
<rect x="603" y="174.2" width="2" height="4.6" fill="#dc3c4a"/>
<rect x="606.5" y="174.2" width="1" height="11.4" fill="#1a8a72"/>
<rect x="606" y="175.4" width="2" height="3.5" fill="#1a8a72"/>
<rect x="608.5" y="167.2" width="1" height="19.7" fill="#dc3c4a"/>
<rect x="608" y="175.4" width="2" height="7.4" fill="#dc3c4a"/>
<rect x="611.5" y="177.6" width="1" height="29.1" fill="#dc3c4a"/>
<rect x="611" y="182.8" width="2" height="17.5" fill="#dc3c4a"/>
<rect x="614.5" y="198.8" width="1" height="44.4" fill="#dc3c4a"/>
<rect x="614" y="200.3" width="2" height="39.6" fill="#dc3c4a"/>
<rect x="617.5" y="236.7" width="1" height="16.4" fill="#dc3c4a"/>
<rect x="617" y="239.9" width="2" height="6.4" fill="#dc3c4a"/>
<rect x="619.5" y="230.0" width="1" height="22.9" fill="#1a8a72"/>
<rect x="619" y="236.2" width="2" height="10.0" fill="#1a8a72"/>
<rect x="622.5" y="225.2" width="1" height="19.2" fill="#1a8a72"/>
<rect x="622" y="229.0" width="2" height="7.3" fill="#1a8a72"/>
<rect x="625.5" y="219.4" width="1" height="14.4" fill="#1a8a72"/>
<rect x="625" y="224.1" width="2" height="4.9" fill="#1a8a72"/>
<rect x="627.5" y="220.2" width="1" height="5.0" fill="#1a8a72"/>
<rect x="627" y="222.0" width="2" height="2.1" fill="#1a8a72"/>
<rect x="630.5" y="220.5" width="1" height="7.6" fill="#dc3c4a"/>
<rect x="630" y="222.0" width="2" height="3.7" fill="#dc3c4a"/>
<rect x="633.5" y="224.4" width="1" height="28.3" fill="#dc3c4a"/>
<rect x="633" y="225.7" width="2" height="20.2" fill="#dc3c4a"/>
<rect x="635.5" y="242.3" width="1" height="7.8" fill="#dc3c4a"/>
<rect x="635" y="245.9" width="2" height="1.0" fill="#dc3c4a"/>
<rect x="638.5" y="241.8" width="1" height="20.0" fill="#dc3c4a"/>
<rect x="638" y="245.9" width="2" height="11.2" fill="#dc3c4a"/>
<rect x="641.5" y="253.9" width="1" height="6.2" fill="#dc3c4a"/>
<rect x="641" y="257.1" width="2" height="2.0" fill="#dc3c4a"/>
<rect x="644.5" y="250.2" width="1" height="14.3" fill="#1a8a72"/>
<rect x="644" y="256.3" width="2" height="2.8" fill="#1a8a72"/>
<rect x="646.5" y="253.1" width="1" height="27.7" fill="#dc3c4a"/>
<rect x="646" y="256.3" width="2" height="21.0" fill="#dc3c4a"/>
<rect x="649.5" y="264.3" width="1" height="14.2" fill="#1a8a72"/>
<rect x="649" y="268.8" width="2" height="8.5" fill="#1a8a72"/>
<rect x="652.5" y="252.8" width="1" height="17.9" fill="#1a8a72"/>
<rect x="652" y="258.1" width="2" height="10.7" fill="#1a8a72"/>
<rect x="654.5" y="256.8" width="1" height="6.5" fill="#dc3c4a"/>
<rect x="654" y="258.1" width="2" height="3.2" fill="#dc3c4a"/>
<rect x="657.5" y="256.1" width="1" height="7.2" fill="#dc3c4a"/>
<rect x="657" y="261.3" width="2" height="1.0" fill="#dc3c4a"/>
<rect x="660.5" y="250.5" width="1" height="23.1" fill="#1a8a72"/>
<rect x="660" y="255.8" width="2" height="5.8" fill="#1a8a72"/>
<rect x="663.5" y="252.6" width="1" height="10.3" fill="#dc3c4a"/>
<rect x="663" y="255.8" width="2" height="4.6" fill="#dc3c4a"/>
<rect x="665.5" y="257.3" width="1" height="11.6" fill="#dc3c4a"/>
<rect x="665" y="260.4" width="2" height="3.8" fill="#dc3c4a"/>
<rect x="668.5" y="258.5" width="1" height="10.9" fill="#dc3c4a"/>
<rect x="668" y="264.2" width="2" height="1.2" fill="#dc3c4a"/>
<rect x="671.5" y="261.1" width="1" height="5.6" fill="#dc3c4a"/>
<rect x="671" y="265.4" width="2" height="1.0" fill="#dc3c4a"/>
<rect x="673.5" y="263.9" width="1" height="5.8" fill="#dc3c4a"/>
<rect x="673" y="265.4" width="2" height="2.4" fill="#dc3c4a"/>
<rect x="676.5" y="261.9" width="1" height="8.1" fill="#1a8a72"/>
<rect x="676" y="267.2" width="2" height="1.0" fill="#1a8a72"/>
<rect x="679.5" y="259.0" width="1" height="9.2" fill="#1a8a72"/>
<rect x="679" y="262.7" width="2" height="4.5" fill="#1a8a72"/>
<rect x="682.5" y="258.9" width="1" height="5.8" fill="#1a8a72"/>
<rect x="682" y="260.1" width="2" height="2.6" fill="#1a8a72"/>
<rect x="684.5" y="244.4" width="1" height="20.4" fill="#1a8a72"/>
<rect x="684" y="249.0" width="2" height="11.1" fill="#1a8a72"/>
<rect x="687.5" y="244.4" width="1" height="9.6" fill="#dc3c4a"/>
<rect x="687" y="249.0" width="2" height="2.9" fill="#dc3c4a"/>
<rect x="690.5" y="241.3" width="1" height="13.7" fill="#1a8a72"/>
<rect x="690" y="244.6" width="2" height="7.4" fill="#1a8a72"/>
<rect x="692.5" y="236.2" width="1" height="9.8" fill="#1a8a72"/>
<rect x="692" y="239.2" width="2" height="5.4" fill="#1a8a72"/>
<rect x="695.5" y="231.0" width="1" height="10.0" fill="#dc3c4a"/>
<rect x="695" y="239.2" width="2" height="1.0" fill="#dc3c4a"/>
<rect x="698.5" y="227.3" width="1" height="24.9" fill="#dc3c4a"/>
<rect x="698" y="239.3" width="2" height="3.1" fill="#dc3c4a"/>
<rect x="701.5" y="233.3" width="1" height="12.1" fill="#1a8a72"/>
<rect x="701" y="234.3" width="2" height="8.1" fill="#1a8a72"/>
<rect x="703.5" y="227.9" width="1" height="20.0" fill="#dc3c4a"/>
<rect x="703" y="234.3" width="2" height="1.5" fill="#dc3c4a"/>
<rect x="706.5" y="233.0" width="1" height="14.9" fill="#dc3c4a"/>
<rect x="706" y="235.9" width="2" height="10.0" fill="#dc3c4a"/>
<rect x="709.5" y="244.1" width="1" height="19.0" fill="#dc3c4a"/>
<rect x="709" y="245.9" width="2" height="6.9" fill="#dc3c4a"/>
<rect x="711.5" y="251.0" width="1" height="9.2" fill="#dc3c4a"/>
<rect x="711" y="252.7" width="2" height="3.6" fill="#dc3c4a"/>
<rect x="714.5" y="254.9" width="1" height="9.4" fill="#dc3c4a"/>
<rect x="714" y="256.3" width="2" height="4.5" fill="#dc3c4a"/>
<rect x="717.5" y="246.6" width="1" height="15.7" fill="#1a8a72"/>
<rect x="717" y="257.4" width="2" height="3.4" fill="#1a8a72"/>
<rect x="719.5" y="245.4" width="1" height="15.2" fill="#1a8a72"/>
<rect x="719" y="251.9" width="2" height="5.5" fill="#1a8a72"/>
<rect x="722.5" y="236.6" width="1" height="20.2" fill="#1a8a72"/>
<rect x="722" y="244.6" width="2" height="7.4" fill="#1a8a72"/>
<rect x="725.5" y="242.7" width="1" height="36.0" fill="#dc3c4a"/>
<rect x="725" y="244.6" width="2" height="25.9" fill="#dc3c4a"/>
<rect x="728.5" y="272.4" width="1" height="24.9" fill="#dc3c4a"/>
<rect x="728" y="276.7" width="2" height="3.9" fill="#dc3c4a"/>
<path d="M0.0,302.0 C1.7,303.5 6.7,308.2 10.0,311.0 C13.3,313.8 16.7,316.5 20.0,319.0 C23.3,321.5 26.7,324.3 30.0,326.0 C33.3,327.7 37.3,328.5 40.0,329.0 C42.7,329.5 43.3,328.2 46.0,329.0 C48.7,329.8 52.7,332.3 56.0,334.0 C59.3,335.7 63.0,337.7 66.0,339.0 C69.0,340.3 71.7,341.4 74.0,342.0 C76.3,342.6 77.3,342.5 80.0,342.4 C82.7,342.3 86.7,341.8 90.0,341.6 C93.3,341.4 96.7,341.3 100.0,341.0 C103.3,340.7 106.7,340.7 110.0,340.0 C113.3,339.3 116.7,338.0 120.0,337.0 C123.3,336.0 126.7,335.4 130.0,334.0 C133.3,332.6 136.7,330.1 140.0,328.3 C143.3,326.5 146.7,325.0 150.0,323.3 C153.3,321.6 156.7,319.7 160.0,318.3 C163.3,316.9 166.7,316.7 170.0,315.0 C173.3,313.3 176.7,310.8 180.0,308.3 C183.3,305.8 186.7,303.6 190.0,300.0 C193.3,296.4 197.2,290.6 200.0,286.7 C202.8,282.8 203.9,280.6 206.7,276.7 C209.5,272.8 213.4,267.8 216.7,263.3 C220.0,258.9 223.4,254.7 226.7,250.0 C230.0,245.3 233.4,239.7 236.7,235.0 C240.0,230.3 243.4,227.0 246.7,221.7 C250.0,216.4 253.6,209.1 256.7,203.3 C259.8,197.5 262.5,191.1 265.0,186.7 C267.5,182.3 269.8,178.9 271.7,176.7 C273.6,174.5 274.8,174.1 276.7,173.3 C278.6,172.5 281.1,171.8 283.3,171.7 C285.5,171.6 287.2,172.0 290.0,172.7 C292.8,173.4 295.8,175.2 300.0,176.0 C304.2,176.8 311.2,177.2 315.0,177.5 C318.8,177.8 319.2,176.7 322.5,177.5 C325.8,178.3 330.8,181.2 335.0,182.5 C339.2,183.8 343.3,184.4 347.5,185.0 C351.7,185.6 355.8,185.2 360.0,186.0 C364.2,186.8 369.2,189.2 372.5,190.0 C375.8,190.8 377.1,191.0 380.0,191.0 C382.9,191.0 386.7,191.0 390.0,190.0 C393.3,189.0 396.7,186.8 400.0,185.0 C403.3,183.2 407.5,180.2 410.0,179.0 C412.5,177.8 412.5,177.5 415.0,177.5 C417.5,177.5 421.7,178.2 425.0,179.0 C428.3,179.8 431.7,181.7 435.0,182.5 C438.3,183.3 441.7,184.0 445.0,184.0 C448.3,184.0 452.1,182.8 455.0,182.5 C457.9,182.2 459.2,183.1 462.5,182.5 C465.8,181.9 470.8,179.8 475.0,178.8 C479.2,177.7 483.3,177.0 487.5,176.2 C491.7,175.5 496.2,174.9 500.0,174.5 C503.8,174.1 506.7,173.5 510.0,173.8 C513.3,174.0 516.7,175.0 520.0,176.2 C523.3,177.5 526.7,179.6 530.0,181.2 C533.3,182.9 536.7,185.4 540.0,186.2 C543.3,187.1 546.7,187.3 550.0,186.2 C553.3,185.2 556.7,182.1 560.0,180.0 C563.3,177.9 566.7,176.0 570.0,173.8 C573.3,171.5 576.7,168.4 580.0,166.2 C583.3,164.1 587.5,162.0 590.0,160.8 C592.5,159.6 593.3,159.7 595.0,159.2 C596.7,158.7 598.3,157.9 600.0,158.0 C601.7,158.1 603.3,159.4 605.0,160.0 C606.7,160.6 608.3,160.7 610.0,161.7 C611.7,162.7 613.3,164.1 615.0,165.8 C616.7,167.5 618.3,170.0 620.0,171.7 C621.7,173.4 623.3,174.4 625.0,175.8 C626.7,177.2 628.3,178.5 630.0,180.0 C631.7,181.5 633.3,183.2 635.0,185.0 C636.7,186.8 638.3,188.9 640.0,190.8 C641.7,192.8 643.3,194.9 645.0,196.7 C646.7,198.5 648.3,200.2 650.0,201.7 C651.7,203.2 653.3,204.6 655.0,205.8 C656.7,207.1 658.3,207.9 660.0,209.2 C661.7,210.4 663.3,211.9 665.0,213.3 C666.7,214.7 668.3,216.2 670.0,217.5 C671.7,218.8 673.3,219.7 675.0,220.8 C676.7,221.9 678.3,223.3 680.0,224.2 C681.7,225.1 683.3,225.7 685.0,226.3 C686.7,226.9 688.3,227.5 690.0,228.0 C691.7,228.5 693.3,228.9 695.0,229.2 C696.7,229.5 698.5,229.4 700.0,229.7 C701.5,229.9 701.5,230.0 704.0,230.7 C706.5,231.4 710.9,232.6 714.9,233.9 C718.9,235.2 725.7,237.6 727.9,238.3" fill="none" stroke="#4255b8" stroke-width="2" stroke-linejoin="round"/>
<clipPath id="ob"><rect x="0" y="420" width="756" height="42.1"/></clipPath>
<clipPath id="os"><rect x="0" y="563.4" width="756" height="20"/></clipPath>
<linearGradient id="gob" gradientUnits="userSpaceOnUse" x1="0" y1="462" x2="0" y2="430"><stop offset="0" stop-color="#7fd0b8" stop-opacity="0"/><stop offset="1" stop-color="#5cc4a5" stop-opacity="0.9"/></linearGradient>
<path d="M0.0,462.0 L0.0,548.8 L2.5,547.5 L5.0,553.8 L7.5,550.0 L10.0,551.2 L12.5,550.0 L15.0,542.5 L17.5,540.0 L20.0,543.8 L23.8,532.5 L27.5,537.5 L30.0,538.8 L32.5,525.0 L35.0,513.8 L37.5,515.0 L40.0,513.8 L42.5,500.0 L45.0,498.8 L47.5,505.0 L50.0,515.0 L52.5,522.5 L55.0,527.5 L57.5,523.8 L60.0,535.0 L62.5,537.5 L65.0,538.8 L67.5,538.8 L70.0,535.0 L72.5,527.5 L75.0,502.5 L77.5,500.0 L80.0,500.0 L82.5,498.8 L85.0,495.0 L87.5,488.8 L90.0,492.5 L92.5,501.2 L95.0,496.2 L97.5,495.0 L100.0,486.2 L102.5,497.5 L105.0,511.2 L107.5,502.5 L110.0,495.0 L112.5,492.5 L115.0,486.2 L117.5,482.5 L120.0,485.0 L122.5,487.5 L125.0,492.5 L127.5,482.5 L130.0,480.0 L132.5,470.0 L135.0,460.0 L137.5,457.5 L140.0,457.5 L142.5,457.5 L145.0,453.8 L147.5,457.5 L150.0,472.5 L152.5,480.0 L155.0,482.5 L157.5,495.0 L160.0,480.0 L162.5,465.0 L165.0,482.5 L166.2,500.0 L168.8,492.5 L171.2,490.0 L173.8,485.0 L176.2,462.5 L178.8,461.2 L181.2,476.2 L183.8,472.5 L186.2,473.8 L188.8,463.8 L191.2,457.5 L193.8,455.0 L196.2,442.5 L200.0,435.0 L202.5,433.8 L205.0,460.0 L207.5,477.5 L210.0,480.0 L212.5,467.5 L215.0,461.2 L217.5,462.5 L220.0,466.2 L222.5,457.5 L225.0,447.5 L227.5,445.0 L230.0,457.5 L232.5,472.5 L235.0,470.0 L237.5,481.2 L240.0,470.0 L242.5,463.8 L245.0,460.0 L247.5,465.0 L250.0,465.0 L252.5,457.5 L255.0,445.0 L257.5,457.5 L260.0,455.0 L262.5,452.5 L265.0,465.0 L267.5,482.5 L270.0,482.5 L272.5,500.0 L275.0,520.0 L277.5,520.0 L280.0,532.5 L282.5,532.5 L285.0,532.5 L287.5,535.0 L290.0,540.0 L292.5,537.5 L295.0,542.5 L297.5,548.8 L300.0,550.0 L302.5,550.0 L305.0,540.0 L307.5,530.0 L310.0,527.5 L312.5,512.5 L315.0,515.0 L317.5,517.5 L320.0,520.0 L322.5,530.0 L325.0,537.5 L327.5,540.0 L330.0,542.5 L332.5,547.5 L335.0,545.0 L337.5,545.0 L340.0,548.8 L342.5,530.0 L345.0,520.0 L347.5,507.5 L350.0,505.0 L352.5,507.5 L355.0,517.5 L357.5,527.5 L360.0,521.2 L362.5,520.0 L365.0,525.0 L367.5,550.0 L370.0,540.0 L372.5,527.5 L375.0,522.5 L377.5,510.0 L380.0,505.0 L382.5,500.0 L385.0,495.0 L387.5,490.0 L390.0,485.0 L392.5,482.5 L395.0,477.5 L397.5,475.0 L400.0,475.0 L402.5,470.0 L405.0,480.0 L407.5,477.5 L410.0,482.5 L411.2,502.5 L413.8,492.5 L416.2,520.0 L418.8,527.5 L421.2,526.2 L423.8,520.0 L426.2,527.5 L428.8,537.5 L431.2,542.5 L433.8,543.8 L436.2,530.0 L438.8,527.5 L441.2,517.5 L443.8,512.5 L446.2,507.5 L448.8,505.0 L451.2,503.8 L453.8,506.2 L456.2,512.5 L460.0,527.5 L462.5,505.0 L465.0,500.0 L467.5,500.0 L470.0,502.5 L472.5,490.0 L475.0,480.0 L477.5,480.0 L480.0,482.5 L482.5,497.5 L485.0,500.0 L487.5,510.0 L490.0,505.0 L492.5,507.5 L495.0,500.0 L497.5,492.5 L500.0,490.0 L502.5,490.0 L505.0,502.5 L507.5,515.0 L510.0,522.5 L512.5,520.0 L515.0,525.0 L517.5,532.5 L520.0,537.5 L522.5,547.5 L525.0,565.0 L527.5,547.5 L530.0,550.0 L532.5,550.0 L535.0,555.0 L538.8,560.0 L541.2,520.0 L545.0,510.0 L547.5,502.5 L550.0,495.0 L552.5,492.5 L555.0,482.5 L557.5,467.5 L560.0,463.8 L562.5,487.5 L565.0,487.5 L567.5,482.5 L570.0,475.0 L572.5,470.0 L575.0,462.5 L577.5,460.0 L580.0,457.5 L582.5,465.0 L585.0,492.5 L587.5,482.5 L590.0,487.5 L592.5,502.5 L595.0,507.5 L597.5,500.0 L600.0,525.0 L602.5,535.0 L605.0,535.0 L607.5,532.5 L610.0,535.0 L612.5,545.0 L615.0,565.0 L617.5,565.0 L620.0,562.5 L622.5,557.5 L625.0,550.0 L627.5,545.0 L630.0,552.5 L632.5,555.0 L635.0,555.0 L637.5,560.0 L640.0,555.0 L642.5,555.0 L645.0,562.5 L647.5,562.5 L650.0,550.0 L652.5,545.0 L655.0,542.5 L657.5,537.5 L660.0,540.0 L662.5,543.8 L665.0,542.5 L667.5,543.8 L670.0,543.8 L672.5,543.8 L675.0,542.5 L677.5,540.0 L680.0,535.0 L682.5,532.5 L685.0,520.0 L687.5,522.5 L690.0,515.0 L692.5,507.5 L695.0,505.0 L697.5,510.0 L700.0,500.0 L702.5,507.5 L705.0,517.5 L707.5,522.5 L710.0,525.0 L712.5,522.5 L715.0,530.0 L717.5,520.0 L720.0,512.5 L722.5,507.5 L725.0,530.0 L727.5,542.5 L727.5,462.0 Z" fill="url(#gob)" clip-path="url(#ob)"/>
<linearGradient id="gos" gradientUnits="userSpaceOnUse" x1="0" y1="563.4" x2="0" y2="590"><stop offset="0" stop-color="#f5b5bb" stop-opacity="0"/><stop offset="1" stop-color="#f08090" stop-opacity="0.9"/></linearGradient>
<path d="M0.0,563.4 L0.0,548.8 L2.5,547.5 L5.0,553.8 L7.5,550.0 L10.0,551.2 L12.5,550.0 L15.0,542.5 L17.5,540.0 L20.0,543.8 L23.8,532.5 L27.5,537.5 L30.0,538.8 L32.5,525.0 L35.0,513.8 L37.5,515.0 L40.0,513.8 L42.5,500.0 L45.0,498.8 L47.5,505.0 L50.0,515.0 L52.5,522.5 L55.0,527.5 L57.5,523.8 L60.0,535.0 L62.5,537.5 L65.0,538.8 L67.5,538.8 L70.0,535.0 L72.5,527.5 L75.0,502.5 L77.5,500.0 L80.0,500.0 L82.5,498.8 L85.0,495.0 L87.5,488.8 L90.0,492.5 L92.5,501.2 L95.0,496.2 L97.5,495.0 L100.0,486.2 L102.5,497.5 L105.0,511.2 L107.5,502.5 L110.0,495.0 L112.5,492.5 L115.0,486.2 L117.5,482.5 L120.0,485.0 L122.5,487.5 L125.0,492.5 L127.5,482.5 L130.0,480.0 L132.5,470.0 L135.0,460.0 L137.5,457.5 L140.0,457.5 L142.5,457.5 L145.0,453.8 L147.5,457.5 L150.0,472.5 L152.5,480.0 L155.0,482.5 L157.5,495.0 L160.0,480.0 L162.5,465.0 L165.0,482.5 L166.2,500.0 L168.8,492.5 L171.2,490.0 L173.8,485.0 L176.2,462.5 L178.8,461.2 L181.2,476.2 L183.8,472.5 L186.2,473.8 L188.8,463.8 L191.2,457.5 L193.8,455.0 L196.2,442.5 L200.0,435.0 L202.5,433.8 L205.0,460.0 L207.5,477.5 L210.0,480.0 L212.5,467.5 L215.0,461.2 L217.5,462.5 L220.0,466.2 L222.5,457.5 L225.0,447.5 L227.5,445.0 L230.0,457.5 L232.5,472.5 L235.0,470.0 L237.5,481.2 L240.0,470.0 L242.5,463.8 L245.0,460.0 L247.5,465.0 L250.0,465.0 L252.5,457.5 L255.0,445.0 L257.5,457.5 L260.0,455.0 L262.5,452.5 L265.0,465.0 L267.5,482.5 L270.0,482.5 L272.5,500.0 L275.0,520.0 L277.5,520.0 L280.0,532.5 L282.5,532.5 L285.0,532.5 L287.5,535.0 L290.0,540.0 L292.5,537.5 L295.0,542.5 L297.5,548.8 L300.0,550.0 L302.5,550.0 L305.0,540.0 L307.5,530.0 L310.0,527.5 L312.5,512.5 L315.0,515.0 L317.5,517.5 L320.0,520.0 L322.5,530.0 L325.0,537.5 L327.5,540.0 L330.0,542.5 L332.5,547.5 L335.0,545.0 L337.5,545.0 L340.0,548.8 L342.5,530.0 L345.0,520.0 L347.5,507.5 L350.0,505.0 L352.5,507.5 L355.0,517.5 L357.5,527.5 L360.0,521.2 L362.5,520.0 L365.0,525.0 L367.5,550.0 L370.0,540.0 L372.5,527.5 L375.0,522.5 L377.5,510.0 L380.0,505.0 L382.5,500.0 L385.0,495.0 L387.5,490.0 L390.0,485.0 L392.5,482.5 L395.0,477.5 L397.5,475.0 L400.0,475.0 L402.5,470.0 L405.0,480.0 L407.5,477.5 L410.0,482.5 L411.2,502.5 L413.8,492.5 L416.2,520.0 L418.8,527.5 L421.2,526.2 L423.8,520.0 L426.2,527.5 L428.8,537.5 L431.2,542.5 L433.8,543.8 L436.2,530.0 L438.8,527.5 L441.2,517.5 L443.8,512.5 L446.2,507.5 L448.8,505.0 L451.2,503.8 L453.8,506.2 L456.2,512.5 L460.0,527.5 L462.5,505.0 L465.0,500.0 L467.5,500.0 L470.0,502.5 L472.5,490.0 L475.0,480.0 L477.5,480.0 L480.0,482.5 L482.5,497.5 L485.0,500.0 L487.5,510.0 L490.0,505.0 L492.5,507.5 L495.0,500.0 L497.5,492.5 L500.0,490.0 L502.5,490.0 L505.0,502.5 L507.5,515.0 L510.0,522.5 L512.5,520.0 L515.0,525.0 L517.5,532.5 L520.0,537.5 L522.5,547.5 L525.0,565.0 L527.5,547.5 L530.0,550.0 L532.5,550.0 L535.0,555.0 L538.8,560.0 L541.2,520.0 L545.0,510.0 L547.5,502.5 L550.0,495.0 L552.5,492.5 L555.0,482.5 L557.5,467.5 L560.0,463.8 L562.5,487.5 L565.0,487.5 L567.5,482.5 L570.0,475.0 L572.5,470.0 L575.0,462.5 L577.5,460.0 L580.0,457.5 L582.5,465.0 L585.0,492.5 L587.5,482.5 L590.0,487.5 L592.5,502.5 L595.0,507.5 L597.5,500.0 L600.0,525.0 L602.5,535.0 L605.0,535.0 L607.5,532.5 L610.0,535.0 L612.5,545.0 L615.0,565.0 L617.5,565.0 L620.0,562.5 L622.5,557.5 L625.0,550.0 L627.5,545.0 L630.0,552.5 L632.5,555.0 L635.0,555.0 L637.5,560.0 L640.0,555.0 L642.5,555.0 L645.0,562.5 L647.5,562.5 L650.0,550.0 L652.5,545.0 L655.0,542.5 L657.5,537.5 L660.0,540.0 L662.5,543.8 L665.0,542.5 L667.5,543.8 L670.0,543.8 L672.5,543.8 L675.0,542.5 L677.5,540.0 L680.0,535.0 L682.5,532.5 L685.0,520.0 L687.5,522.5 L690.0,515.0 L692.5,507.5 L695.0,505.0 L697.5,510.0 L700.0,500.0 L702.5,507.5 L705.0,517.5 L707.5,522.5 L710.0,525.0 L712.5,522.5 L715.0,530.0 L717.5,520.0 L720.0,512.5 L722.5,507.5 L725.0,530.0 L727.5,542.5 L727.5,563.4 Z" fill="url(#gos)" clip-path="url(#os)"/>
<path d="M0.0,537.5 C1.7,537.9 6.7,539.0 10.0,540.0 C13.3,541.0 16.7,543.3 20.0,543.8 C23.3,544.2 26.7,544.0 30.0,542.5 C33.3,541.0 36.7,537.9 40.0,535.0 C43.3,532.1 46.7,527.3 50.0,525.0 C53.3,522.7 56.7,521.9 60.0,521.2 C63.3,520.6 66.7,521.7 70.0,521.2 C73.3,520.8 76.7,520.0 80.0,518.8 C83.3,517.5 86.7,515.8 90.0,513.8 C93.3,511.7 96.7,509.0 100.0,506.2 C103.3,503.5 106.7,499.8 110.0,497.5 C113.3,495.2 116.7,494.6 120.0,492.5 C123.3,490.4 126.7,487.5 130.0,485.0 C133.3,482.5 136.7,479.5 140.0,477.5 C143.3,475.5 146.7,473.5 150.0,473.0 C153.3,472.5 156.7,473.8 160.0,474.5 C163.3,475.2 166.7,476.4 170.0,477.0 C173.3,477.6 177.2,478.2 180.0,478.0 C182.8,477.8 184.2,477.5 187.0,476.0 C189.8,474.5 193.9,471.1 196.9,469.0 C199.9,466.9 202.5,464.9 205.0,463.5 C207.5,462.1 208.6,461.2 211.9,460.5 C215.2,459.8 220.3,459.7 225.0,459.5 C229.7,459.3 233.8,459.4 240.0,459.5 C246.2,459.6 257.5,459.4 262.5,460.0 C267.5,460.6 267.1,460.7 270.0,463.0 C272.9,465.3 276.2,468.0 280.0,474.0 C283.8,480.0 289.2,490.9 292.5,499.0 C295.8,507.1 297.5,516.9 300.0,522.5 C302.5,528.1 304.6,530.6 307.5,532.5 C310.4,534.4 313.8,533.5 317.5,533.8 C321.2,534.0 326.2,534.0 330.0,533.8 C333.8,533.5 336.7,532.9 340.0,532.5 C343.3,532.1 346.7,531.5 350.0,531.2 C353.3,531.0 357.3,531.7 360.0,531.2 C362.7,530.8 364.2,529.6 366.2,528.8 C368.3,527.9 370.4,527.2 372.5,526.2 C374.6,525.3 376.7,524.2 378.8,523.1 C380.8,522.0 382.9,520.8 385.0,519.4 C387.1,518.0 389.2,516.8 391.2,515.0 C393.3,513.2 395.4,511.2 397.5,508.8 C399.6,506.2 401.7,502.8 403.8,500.0 C405.8,497.2 408.3,493.8 410.0,491.9 C411.7,490.0 412.3,489.3 413.8,488.8 C415.2,488.2 416.9,488.2 418.8,488.8 C420.6,489.3 422.9,490.2 425.0,491.9 C427.1,493.6 429.2,495.9 431.2,498.8 C433.3,501.6 435.6,505.8 437.5,508.8 C439.4,511.7 440.8,514.4 442.5,516.2 C444.2,518.1 445.6,519.2 447.5,520.0 C449.4,520.8 451.7,521.1 453.8,521.2 C455.8,521.4 457.3,522.5 460.0,520.6 C462.7,518.7 466.7,513.0 470.0,510.0 C473.3,507.0 476.7,504.4 480.0,502.5 C483.3,500.6 486.7,499.6 490.0,498.8 C493.3,497.9 496.7,496.9 500.0,497.5 C503.3,498.1 506.7,500.0 510.0,502.5 C513.3,505.0 516.7,509.2 520.0,512.5 C523.3,515.8 526.7,518.8 530.0,522.5 C533.3,526.2 537.1,532.3 540.0,535.0 C542.9,537.7 545.0,539.6 547.5,538.8 C550.0,537.9 552.1,534.8 555.0,530.0 C557.9,525.2 561.7,516.7 565.0,510.0 C568.3,503.3 572.1,495.4 575.0,490.0 C577.9,484.6 580.0,480.0 582.5,477.5 C585.0,475.0 587.5,474.6 590.0,475.0 C592.5,475.4 595.0,477.9 597.5,480.0 C600.0,482.1 602.5,484.2 605.0,487.5 C607.5,490.8 610.0,495.4 612.5,500.0 C615.0,504.6 617.5,510.0 620.0,515.0 C622.5,520.0 625.0,525.4 627.5,530.0 C630.0,534.6 632.5,539.0 635.0,542.5 C637.5,546.0 640.0,549.0 642.5,551.2 C645.0,553.5 647.5,555.8 650.0,556.2 C652.5,556.7 655.0,554.8 657.5,553.8 C660.0,552.7 662.5,551.0 665.0,550.0 C667.5,549.0 670.0,548.8 672.5,547.5 C675.0,546.2 677.5,544.6 680.0,542.5 C682.5,540.4 685.0,537.5 687.5,535.0 C690.0,532.5 692.5,529.6 695.0,527.5 C697.5,525.4 700.0,524.2 702.5,522.5 C705.0,520.8 707.5,518.8 710.0,517.5 C712.5,516.2 716.2,515.4 717.5,515.0" fill="none" stroke="#f3dba6" stroke-width="1.6"/>
<path d="M0.0,548.8 L2.5,547.5 L5.0,553.8 L7.5,550.0 L10.0,551.2 L12.5,550.0 L15.0,542.5 L17.5,540.0 L20.0,543.8 L23.8,532.5 L27.5,537.5 L30.0,538.8 L32.5,525.0 L35.0,513.8 L37.5,515.0 L40.0,513.8 L42.5,500.0 L45.0,498.8 L47.5,505.0 L50.0,515.0 L52.5,522.5 L55.0,527.5 L57.5,523.8 L60.0,535.0 L62.5,537.5 L65.0,538.8 L67.5,538.8 L70.0,535.0 L72.5,527.5 L75.0,502.5 L77.5,500.0 L80.0,500.0 L82.5,498.8 L85.0,495.0 L87.5,488.8 L90.0,492.5 L92.5,501.2 L95.0,496.2 L97.5,495.0 L100.0,486.2 L102.5,497.5 L105.0,511.2 L107.5,502.5 L110.0,495.0 L112.5,492.5 L115.0,486.2 L117.5,482.5 L120.0,485.0 L122.5,487.5 L125.0,492.5 L127.5,482.5 L130.0,480.0 L132.5,470.0 L135.0,460.0 L137.5,457.5 L140.0,457.5 L142.5,457.5 L145.0,453.8 L147.5,457.5 L150.0,472.5 L152.5,480.0 L155.0,482.5 L157.5,495.0 L160.0,480.0 L162.5,465.0 L165.0,482.5 L166.2,500.0 L168.8,492.5 L171.2,490.0 L173.8,485.0 L176.2,462.5 L178.8,461.2 L181.2,476.2 L183.8,472.5 L186.2,473.8 L188.8,463.8 L191.2,457.5 L193.8,455.0 L196.2,442.5 L200.0,435.0 L202.5,433.8 L205.0,460.0 L207.5,477.5 L210.0,480.0 L212.5,467.5 L215.0,461.2 L217.5,462.5 L220.0,466.2 L222.5,457.5 L225.0,447.5 L227.5,445.0 L230.0,457.5 L232.5,472.5 L235.0,470.0 L237.5,481.2 L240.0,470.0 L242.5,463.8 L245.0,460.0 L247.5,465.0 L250.0,465.0 L252.5,457.5 L255.0,445.0 L257.5,457.5 L260.0,455.0 L262.5,452.5 L265.0,465.0 L267.5,482.5 L270.0,482.5 L272.5,500.0 L275.0,520.0 L277.5,520.0 L280.0,532.5 L282.5,532.5 L285.0,532.5 L287.5,535.0 L290.0,540.0 L292.5,537.5 L295.0,542.5 L297.5,548.8 L300.0,550.0 L302.5,550.0 L305.0,540.0 L307.5,530.0 L310.0,527.5 L312.5,512.5 L315.0,515.0 L317.5,517.5 L320.0,520.0 L322.5,530.0 L325.0,537.5 L327.5,540.0 L330.0,542.5 L332.5,547.5 L335.0,545.0 L337.5,545.0 L340.0,548.8 L342.5,530.0 L345.0,520.0 L347.5,507.5 L350.0,505.0 L352.5,507.5 L355.0,517.5 L357.5,527.5 L360.0,521.2 L362.5,520.0 L365.0,525.0 L367.5,550.0 L370.0,540.0 L372.5,527.5 L375.0,522.5 L377.5,510.0 L380.0,505.0 L382.5,500.0 L385.0,495.0 L387.5,490.0 L390.0,485.0 L392.5,482.5 L395.0,477.5 L397.5,475.0 L400.0,475.0 L402.5,470.0 L405.0,480.0 L407.5,477.5 L410.0,482.5 L411.2,502.5 L413.8,492.5 L416.2,520.0 L418.8,527.5 L421.2,526.2 L423.8,520.0 L426.2,527.5 L428.8,537.5 L431.2,542.5 L433.8,543.8 L436.2,530.0 L438.8,527.5 L441.2,517.5 L443.8,512.5 L446.2,507.5 L448.8,505.0 L451.2,503.8 L453.8,506.2 L456.2,512.5 L460.0,527.5 L462.5,505.0 L465.0,500.0 L467.5,500.0 L470.0,502.5 L472.5,490.0 L475.0,480.0 L477.5,480.0 L480.0,482.5 L482.5,497.5 L485.0,500.0 L487.5,510.0 L490.0,505.0 L492.5,507.5 L495.0,500.0 L497.5,492.5 L500.0,490.0 L502.5,490.0 L505.0,502.5 L507.5,515.0 L510.0,522.5 L512.5,520.0 L515.0,525.0 L517.5,532.5 L520.0,537.5 L522.5,547.5 L525.0,565.0 L527.5,547.5 L530.0,550.0 L532.5,550.0 L535.0,555.0 L538.8,560.0 L541.2,520.0 L545.0,510.0 L547.5,502.5 L550.0,495.0 L552.5,492.5 L555.0,482.5 L557.5,467.5 L560.0,463.8 L562.5,487.5 L565.0,487.5 L567.5,482.5 L570.0,475.0 L572.5,470.0 L575.0,462.5 L577.5,460.0 L580.0,457.5 L582.5,465.0 L585.0,492.5 L587.5,482.5 L590.0,487.5 L592.5,502.5 L595.0,507.5 L597.5,500.0 L600.0,525.0 L602.5,535.0 L605.0,535.0 L607.5,532.5 L610.0,535.0 L612.5,545.0 L615.0,565.0 L617.5,565.0 L620.0,562.5 L622.5,557.5 L625.0,550.0 L627.5,545.0 L630.0,552.5 L632.5,555.0 L635.0,555.0 L637.5,560.0 L640.0,555.0 L642.5,555.0 L645.0,562.5 L647.5,562.5 L650.0,550.0 L652.5,545.0 L655.0,542.5 L657.5,537.5 L660.0,540.0 L662.5,543.8 L665.0,542.5 L667.5,543.8 L670.0,543.8 L672.5,543.8 L675.0,542.5 L677.5,540.0 L680.0,535.0 L682.5,532.5 L685.0,520.0 L687.5,522.5 L690.0,515.0 L692.5,507.5 L695.0,505.0 L697.5,510.0 L700.0,500.0 L702.5,507.5 L705.0,517.5 L707.5,522.5 L710.0,525.0 L712.5,522.5 L715.0,530.0 L717.5,520.0 L720.0,512.5 L722.5,507.5 L725.0,530.0 L727.5,542.5" fill="none" stroke="#7f6fc4" stroke-width="1.1" stroke-linejoin="round"/>
<text x="763" y="406.2" font-size="9.5" textLength="23.35" lengthAdjust="spacingAndGlyphs" class="ax">88.000</text>
<text x="763" y="378.3" font-size="9.5" textLength="23.35" lengthAdjust="spacingAndGlyphs" class="ax">90.000</text>
<text x="763" y="350.4" font-size="9.5" textLength="23.35" lengthAdjust="spacingAndGlyphs" class="ax">92.000</text>
<text x="763" y="322.5" font-size="9.5" textLength="23.35" lengthAdjust="spacingAndGlyphs" class="ax">94.000</text>
<text x="763" y="266.7" font-size="9.5" textLength="23.35" lengthAdjust="spacingAndGlyphs" class="ax">98.000</text>
<text x="763" y="210.9" font-size="9.5" textLength="27.60" lengthAdjust="spacingAndGlyphs" class="ax">102.000</text>
<text x="763" y="183.0" font-size="9.5" textLength="27.60" lengthAdjust="spacingAndGlyphs" class="ax">104.000</text>
<text x="763" y="155.1" font-size="9.5" textLength="27.60" lengthAdjust="spacingAndGlyphs" class="ax">106.000</text>
<text x="763" y="127.2" font-size="9.5" textLength="27.60" lengthAdjust="spacingAndGlyphs" class="ax">108.000</text>
<text x="763" y="99.3" font-size="9.5" textLength="27.60" lengthAdjust="spacingAndGlyphs" class="ax">110.000</text>
<text x="763" y="71.4" font-size="9.5" textLength="27.60" lengthAdjust="spacingAndGlyphs" class="ax">112.000</text>
<text x="763" y="43.5" font-size="9.5" textLength="27.60" lengthAdjust="spacingAndGlyphs" class="ax">114.000</text>
<text x="763" y="15.6" font-size="9.5" textLength="27.60" lengthAdjust="spacingAndGlyphs" class="ax">116.000</text>
<text x="762.5" y="440.2" font-size="9.5" textLength="19.10" lengthAdjust="spacingAndGlyphs" class="ax">80.00</text>
<text x="762.5" y="465.6" font-size="9.5" textLength="19.10" lengthAdjust="spacingAndGlyphs" class="ax">70.00</text>
<text x="762.5" y="490.9" font-size="9.5" textLength="19.10" lengthAdjust="spacingAndGlyphs" class="ax">60.00</text>
<text x="762.5" y="516.3" font-size="9.5" textLength="19.10" lengthAdjust="spacingAndGlyphs" class="ax">50.00</text>
<text x="762.5" y="541.6" font-size="9.5" textLength="19.10" lengthAdjust="spacingAndGlyphs" class="ax">40.00</text>
<text x="762.5" y="567.0" font-size="9.5" textLength="19.10" lengthAdjust="spacingAndGlyphs" class="ax">30.00</text>
<text x="5.00" y="593.6" font-size="8.8" textLength="17.5" lengthAdjust="spacingAndGlyphs" class="ax tb">2021</text>
<text x="80.00" y="593.6" font-size="8.8" textLength="10" lengthAdjust="spacingAndGlyphs" class="ax tb">Jul</text>
<text x="146.25" y="593.6" font-size="8.8" textLength="17.5" lengthAdjust="spacingAndGlyphs" class="ax tb">2022</text>
<text x="220.00" y="593.6" font-size="8.8" textLength="10" lengthAdjust="spacingAndGlyphs" class="ax tb">Jul</text>
<text x="286.25" y="593.6" font-size="8.8" textLength="17.5" lengthAdjust="spacingAndGlyphs" class="ax tb">2023</text>
<text x="360.00" y="593.6" font-size="8.8" textLength="10" lengthAdjust="spacingAndGlyphs" class="ax tb">Jul</text>
<text x="427.25" y="593.6" font-size="8.8" textLength="17.5" lengthAdjust="spacingAndGlyphs" class="ax tb">2024</text>
<text x="501.00" y="593.6" font-size="8.8" textLength="10" lengthAdjust="spacingAndGlyphs" class="ax tb">Jul</text>
<text x="570.25" y="593.6" font-size="8.8" textLength="17.5" lengthAdjust="spacingAndGlyphs" class="ax tb">2025</text>
<text x="645.00" y="593.6" font-size="8.8" textLength="10" lengthAdjust="spacingAndGlyphs" class="ax tb">Jul</text>
<text x="711.75" y="593.6" font-size="8.8" textLength="17.5" lengthAdjust="spacingAndGlyphs" class="ax tb">2026</text>
<rect x="0" y="0" width="384" height="18" fill="#fff"/>
<rect x="0" y="18" width="113" height="26" fill="#fff"/>
<rect x="0" y="44" width="86" height="16" fill="#fff"/>
<circle cx="11.2" cy="9.8" r="5.6" fill="#1e7a5f"/>
<circle cx="11.2" cy="9.8" r="3.6" fill="none" stroke="#e8f5ef" stroke-width="0.6" opacity="0.5"/>
<text x="8.60" y="12.49" font-size="7.5" fill="#ffffff" font-weight="bold" textLength="5.20" lengthAdjust="spacingAndGlyphs">S</text>
<text stroke="#131722" stroke-width="0.12" x="19.60" y="13.56" font-size="10.5" fill="#131722" font-weight="normal" textLength="125.40" lengthAdjust="spacingAndGlyphs">U.S. Dollar Index · 1W · TVC</text>
<rect x="151" y="4" width="13" height="12" rx="6" fill="#dff3ec"/>
<circle cx="157.5" cy="10" r="2.3" fill="#1e8a66"/>
<rect x="165" y="4" width="12" height="12" rx="3" fill="#fbd9df"/>
<rect x="168" y="8" width="6" height="1" fill="#d94a6a"/><rect x="168" y="10.5" width="6" height="1" fill="#d94a6a"/>
<text x="182.60" y="14.06" font-size="10.5" fill="#131722" font-weight="normal" textLength="4.10" lengthAdjust="spacingAndGlyphs">O</text>
<text x="187.10" y="14.06" font-size="10.5" fill="#e0454f" font-weight="normal" textLength="25.70" lengthAdjust="spacingAndGlyphs">97.025</text>
<text x="217.60" y="14.06" font-size="10.5" fill="#131722" font-weight="normal" textLength="4.90" lengthAdjust="spacingAndGlyphs">H</text>
<text x="223.10" y="14.06" font-size="10.5" fill="#e0454f" font-weight="normal" textLength="24.80" lengthAdjust="spacingAndGlyphs">97.333</text>
<text x="252.70" y="14.06" font-size="10.5" fill="#131722" font-weight="normal" textLength="3.50" lengthAdjust="spacingAndGlyphs">L</text>
<text x="256.80" y="14.06" font-size="10.5" fill="#e0454f" font-weight="normal" textLength="25.50" lengthAdjust="spacingAndGlyphs">95.551</text>
<text x="287.50" y="14.06" font-size="10.5" fill="#131722" font-weight="normal" textLength="4.80" lengthAdjust="spacingAndGlyphs">C</text>
<text x="292.80" y="14.06" font-size="10.5" fill="#e0454f" font-weight="normal" textLength="25.70" lengthAdjust="spacingAndGlyphs">96.747</text>
<text x="322.00" y="14.06" font-size="10.5" fill="#e0454f" font-weight="normal" textLength="60.70" lengthAdjust="spacingAndGlyphs">−0.709 (−0.72%)</text>
<rect x="5.75" y="20.75" width="38.75" height="21.5" rx="3" fill="#fff" stroke="#ee9ea6" stroke-width="1"/>
<text x="12.00" y="29.24" font-size="8.2" fill="#cf3f4d" font-weight="normal" textLength="25.50" lengthAdjust="spacingAndGlyphs">96.747</text>
<text x="20.00" y="37.81" font-size="7" fill="#cf3f4d" font-weight="normal" textLength="12.00" lengthAdjust="spacingAndGlyphs">SELL</text>
<text x="49.50" y="33.61" font-size="8" fill="#2a2e39" font-weight="normal" textLength="16.50" lengthAdjust="spacingAndGlyphs">0.000</text>
<rect x="71.75" y="20.75" width="38.75" height="21.5" rx="3" fill="#fff" stroke="#98a6e6" stroke-width="1"/>
<text x="78.75" y="29.24" font-size="8.2" fill="#3d5bd9" font-weight="normal" textLength="24.75" lengthAdjust="spacingAndGlyphs">96.747</text>
<text x="84.75" y="37.81" font-size="7" fill="#3d5bd9" font-weight="normal" textLength="12.75" lengthAdjust="spacingAndGlyphs">BUY</text>
<text x="5.25" y="55.79" font-size="9.2" fill="#2a2e39" font-weight="normal" textLength="47.25" lengthAdjust="spacingAndGlyphs">EMA 50 close</text>
<text x="57.75" y="55.79" font-size="9.2" fill="#3d5bd9" font-weight="normal" textLength="25.50" lengthAdjust="spacingAndGlyphs">99.752</text>
<rect x="5.75" y="63.5" width="17.5" height="12.5" rx="2" fill="#fff" stroke="#e0e3eb" stroke-width="1"/>
<path d="M12,71 L14.5,68.5 L17,71" fill="none" stroke="#131722" stroke-width="1.2"/>
<text x="5.25" y="429.54" font-size="9.2" fill="#2a2e39" font-weight="normal" textLength="12.75" lengthAdjust="spacingAndGlyphs">RSI</text>
<text x="20.00" y="429.54" font-size="9.2" fill="#4a4e59" font-weight="normal" textLength="28.75" lengthAdjust="spacingAndGlyphs">14 close</text>
<text x="53.25" y="429.54" font-size="9.2" fill="#7e63c4" font-weight="normal" textLength="21.75" lengthAdjust="spacingAndGlyphs">37.54</text>
<text x="78.75" y="429.54" font-size="9.2" fill="#f2cb63" font-weight="normal" textLength="21.00" lengthAdjust="spacingAndGlyphs">47.97</text>
<rect x="737" y="24" width="55" height="10" fill="#e3ecf7"/>
<text x="738.60" y="31.92" font-size="9" fill="#131722" font-weight="normal" textLength="15.20" lengthAdjust="spacingAndGlyphs">High</text>
<text x="763.40" y="32.07" font-size="9.4" fill="#131722" font-weight="normal" textLength="27.60" lengthAdjust="spacingAndGlyphs">114.778</text>
<rect x="737" y="379.5" width="51.5" height="12.5" fill="#e6eef8"/>
<text x="740.00" y="389.42" font-size="9" fill="#131722" font-weight="normal" textLength="14.30" lengthAdjust="spacingAndGlyphs">Low</text>
<text x="763.00" y="389.57" font-size="9.4" fill="#131722" font-weight="normal" textLength="23.00" lengthAdjust="spacingAndGlyphs">89.209</text>
<rect x="757.2" y="232.7" width="32.6" height="11" fill="#2f5fe8"/>
<text x="763.00" y="241.57" font-size="9.4" fill="#ffffff" font-weight="normal" textLength="22.80" lengthAdjust="spacingAndGlyphs">99.752</text>
<rect x="737.9" y="275.8" width="18.1" height="10" fill="#e63a48"/>
<text x="740.30" y="284.17" font-size="9.4" fill="#ffffff" font-weight="normal" textLength="13.40" lengthAdjust="spacingAndGlyphs">DXY</text>
<rect x="757.2" y="275.8" width="39.1" height="19.3" fill="#e63a48"/>
<text x="763.00" y="284.47" font-size="9.4" fill="#ffffff" font-weight="normal" textLength="22.20" lengthAdjust="spacingAndGlyphs">96.747</text>
<text x="763.00" y="293.77" font-size="9.4" fill="#ffffff" font-weight="normal" textLength="30.30" lengthAdjust="spacingAndGlyphs">14:03:16</text>
<rect x="760" y="512.5" width="25" height="10" fill="#f7d23c"/>
<text x="761.50" y="520.72" font-size="9" fill="#131722" font-weight="normal" textLength="22.00" lengthAdjust="spacingAndGlyphs">47.97</text>
<rect x="757" y="539.5" width="28" height="10" fill="#7e57c2"/>
<text x="760.00" y="547.72" font-size="9" fill="#ffffff" font-weight="normal" textLength="23.00" lengthAdjust="spacingAndGlyphs">37.54</text>
<circle cx="728.5" cy="391" r="6" fill="#fbf3fb" stroke="#b06ad0" stroke-width="1.5"/>
<path d="M730.2,386.8 L726.4,391.6 L728.6,391.6 L727,395.4 L731,390.4 L728.8,390.4 Z" fill="#6a2ea8"/>
<circle cx="733.6" cy="385.6" r="1.4" fill="#e0455a"/>
<ellipse cx="729.6" cy="406.1" rx="7.4" ry="6.6" fill="#e9505f"/>
<ellipse cx="729.6" cy="406.1" rx="5.6" ry="4.8" fill="#f3f3f7"/>
<rect x="724" y="402.4" width="6" height="3" fill="#3a68d0"/>
<rect x="730.5" y="402.6" width="4.8" height="1.2" fill="#e9505f"/>
<rect x="724" y="407.4" width="11.2" height="2.4" fill="#e9505f"/>
<circle cx="779" cy="591" r="4.2" fill="none" stroke="#131722" stroke-width="1"/>
<circle cx="779" cy="591" r="1.4" fill="none" stroke="#131722" stroke-width="1"/>
<rect x="0" y="561.5" width="111" height="17" fill="#fff"/>
<path d="M7.4,563.5 H15.1 V572.3 H10.9 V567.4 H7.4 Z" fill="#131722"/>
<circle cx="17.9" cy="565" r="1.85" fill="#131722"/>
<path d="M21.6,563.5 H26.1 L22.7,572.3 H18.6 Z" fill="#131722"/>
<text x="31.70" y="571.82" font-size="11.5" fill="#131722" font-weight="bold" textLength="77.30" lengthAdjust="spacingAndGlyphs">TradingView</text>
</svg>
</body></html>
